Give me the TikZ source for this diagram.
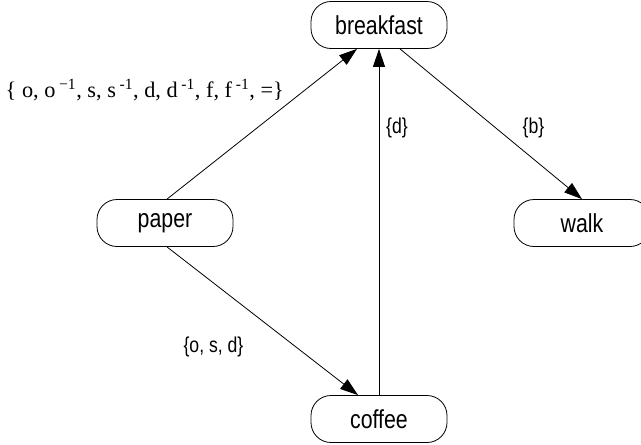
\documentclass[tikz,border=0pt]{standalone}
\usepackage{fontspec}
\setmainfont{Liberation Serif}
\newfontfamily\narrowsans[FakeStretch=0.82]{Liberation Sans}
\usetikzlibrary{arrows.meta,calc}
\tikzset{
  state/.style={draw, line width=0.8pt, rounded corners=20pt, minimum width=136pt,
    minimum height=47pt, inner sep=0pt, font=\narrowsans\fontsize{26}{30}\selectfont},
  conn/.style={draw, line width=0.8pt, -{Triangle[length=18pt,width=12pt]}},
  lbl/.style={inner sep=0pt, font=\narrowsans\fontsize{21.5}{25}\selectfont}
}
\begin{document}
\begin{tikzpicture}[x=1pt,y=-1pt]
\useasboundingbox (0,0) rectangle (641,445);
\clip (0,0) rectangle (641,445);
\node[state] (breakfast) at (379,25) {breakfast};
\node[state] (paper) at (165,223) {paper};
\node[state] (walk) at (582,223) {walk};
\node[state] (coffee) at (379,419) {coffee};
\draw[conn] ($(paper.north)+(2,0)$) -- ($(breakfast.south)+(-22,0)$);
\draw[conn] (coffee.north) -- (breakfast.south);
\draw[conn] ($(breakfast.south)+(21,0)$) -- (walk.north);
\draw[conn] ($(paper.south)+(2,0)$) -- ($(coffee.north)+(-21,0)$);
\node[inner sep=0pt, anchor=east, font=\fontsize{22.3}{27}\selectfont] (setlbl) at (284,90)
  {\{ o, o\,\textsuperscript{−1}, s, s\,\textsuperscript{-1}, d, d\,\textsuperscript{-1}, f, f\,\textsuperscript{-1}, =\}};
\node[lbl] (dlbl) at (397,128) {\{d\}};
\node[lbl] (blbl) at (533.5,128) {\{b\}};
\node[lbl] (osdlbl) at (213.5,347) {\{o, s, d\}};
\end{tikzpicture}
\end{document}
